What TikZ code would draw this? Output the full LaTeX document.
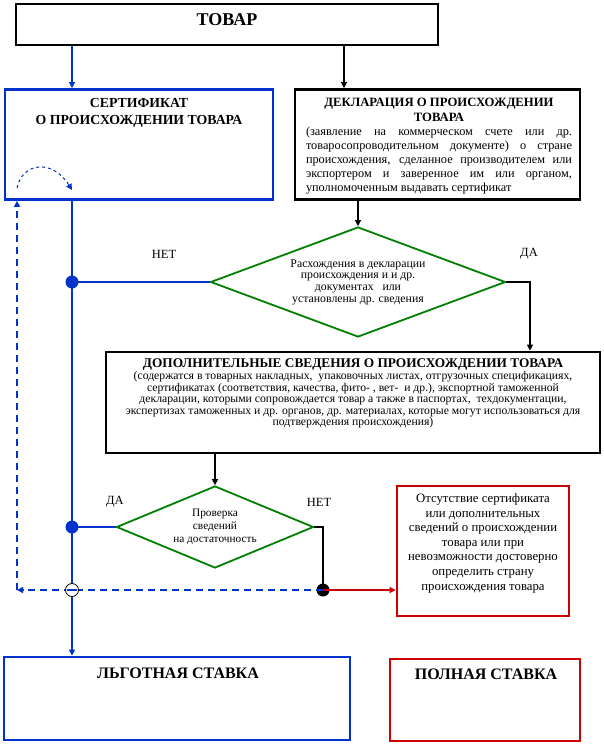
\documentclass[tikz,border=0pt]{standalone}
\usepackage{fontspec}
\setmainfont{Liberation Serif}
\usetikzlibrary{shapes.geometric,arrows.meta,calc}
\definecolor{cblue}{RGB}{0,51,204}
\definecolor{cgreen}{RGB}{0,128,0}
\definecolor{cred}{RGB}{204,0,0}
\begin{document}
\begin{tikzpicture}[x=1pt,y=-1pt,
  box/.style={draw, line width=2.8pt, inner sep=0pt},
  conn/.style={line width=1.8pt},
  arr/.style={-{Triangle[length=6pt,width=6pt]}},
  dsh/.style={line width=1.8pt, dash pattern=on 7pt off 5pt},
  dia/.style={diamond, draw=cgreen, line width=1.8pt, inner sep=0pt, align=center},
  txt/.style={inner sep=0pt, align=center},
  dotb/.style={circle, fill=cblue, minimum size=13pt, inner sep=0pt},
  dotk/.style={circle, fill=black, minimum size=13pt, inner sep=0pt},
  lbl/.style={inner sep=0pt, font=\fontsize{12.5}{14}\selectfont}
]
\useasboundingbox[fill=white] (0,0) rectangle (604,748);

% boxes
\node[box, draw=black, minimum width=422pt, minimum height=41pt] (tovar) at (227,24.5) {};
\node[txt, font=\fontsize{18}{20}\selectfont\bfseries] (tovarT) at (227,20) {ТОВАР};

\node[box, draw=cblue, minimum width=268pt, minimum height=110pt] (cert) at (139,144.5) {};
\node[txt, anchor=north, font=\fontsize{13.8}{17}\selectfont\bfseries] (certT) at (139,98.5) {СЕРТИФИКАТ\\О ПРОИСХОЖДЕНИИ ТОВАРА};

\node[box, draw=black, minimum width=285pt, minimum height=110pt] (decl) at (437.5,144.5) {};
\node[txt, anchor=north, font=\fontsize{12.7}{15}\selectfont\bfseries] (declT) at (439,97.5) {ДЕКЛАРАЦИЯ О ПРОИСХОЖДЕНИИ\\ТОВАРА};
\node[inner sep=0pt, anchor=north, text width=266pt, align=justify, font=\fontsize{12.3}{14}\selectfont] (declB) at (439,126.5) {(заявление на коммерческом счете или др.\linebreak товаросопроводительном документе) о стране\linebreak происхождения, сделанное производителем или\linebreak экспортером и заверенное им или органом,\linebreak уполномоченным выдавать сертификат};

\node[dia, aspect=2.68, minimum width=295pt, minimum height=110pt, font=\fontsize{11.8}{11.7}\selectfont] (d1) at (358,282) {Расхождения в декларации\\происхождения и и др.\\документах~~ или\\установлены др. сведения};

\node[box, draw=black, minimum width=494pt, minimum height=101pt] (dop) at (353,402.5) {};
\node[txt, anchor=north, font=\fontsize{13.3}{15}\selectfont\bfseries] (dopT) at (353,358.5) {ДОПОЛНИТЕЛЬНЫЕ СВЕДЕНИЯ О ПРОИСХОЖДЕНИИ ТОВАРА};
\node[txt, anchor=north, font=\fontsize{11.7}{11.5}\selectfont] (dopB) at (353,371.5) {(содержатся в товарных накладных,~ упаковочных листах, отгрузочных спецификациях,\\сертификатах (соответствия, качества, фито- , вет-~ и др.), экспортной таможенной\\декларации, которыми сопровождается товар а также в паспортах,~ техдокументации,\\экспертизах таможенных и др. органов, др. материалах, которые могут использоваться для\\подтверждения происхождения)};

\node[dia, aspect=2.4, minimum width=197pt, minimum height=82pt, font=\fontsize{11.3}{13}\selectfont] (d2) at (215,527) {Проверка\\сведений\\на достаточность};

\node[box, draw=cred, minimum width=172pt, minimum height=130pt] (red) at (483,551) {};
\node[txt, anchor=north, font=\fontsize{12.8}{14.6}\selectfont] (redT) at (483,493.5) {Отсутствие сертификата\\или дополнительных\\сведений о происхождении\\товара или при\\невозможности достоверно\\определить страну\\происхождения товара};

\node[box, draw=cblue, minimum width=346pt, minimum height=83pt] (lgot) at (177,698.5) {};
\node[txt, anchor=north, font=\fontsize{16}{18}\selectfont\bfseries] (lgotT) at (178,667.5) {ЛЬГОТНАЯ СТАВКА};

\node[box, draw=cred, minimum width=190pt, minimum height=82pt] (poln) at (485,700) {};
\node[txt, anchor=north, font=\fontsize{16}{18}\selectfont\bfseries] (polnT) at (486,668.5) {ПОЛНАЯ СТАВКА};

% labels
\node[lbl] (net1) at (164,254) {НЕТ};
\node[lbl] (da1) at (529,254) {ДА};
\node[lbl] (da2) at (115,502) {ДА};
\node[lbl] (net2) at (319,502) {НЕТ};

% coordinates
\coordinate (bx) at (72,0);
\coordinate (kx) at (344,0);
\coordinate (dx) at (530,0);
\coordinate (cl) at (17,590);
\coordinate (ca) at (17,188);
\coordinate (cb) at (72,190);

% connectors
\draw[conn, cblue, arr] (tovar.south -| bx) -- (cert.north -| bx);
\draw[conn, black, arr] (tovar.south -| kx) -- (decl.north -| kx);
\draw[conn, black, arr] (decl.south -| d1.north) -- (d1.north);
\draw[conn, black, arr] (d1.east) -| (dx |- dop.north);
\draw[conn, black, arr] (dop.south -| d2.north) -- (d2.north);
\draw[conn, cblue, arr] (cert.south -| bx) -- (lgot.north -| bx);
\node[dotb] (bd1) at (d1.west -| bx) {};
\node[dotb] (bd2) at (d2.west -| bx) {};
\draw[conn, cblue] (bd1.center) -- (d1.west);
\draw[conn, cblue] (bd2.center) -- (d2.west);
\node[dotk] (kd) at (323,590) {};
\draw[conn, black] (d2.east) -| (kd.center);
\draw[conn, cred, arr] (kd.center) -- (kd -| red.west);
\draw[dsh, cblue, arr] (kd.center) -- (cl);
\draw[dsh, cblue, arr] (cl) -- (cl |- cert.south);
\draw[cblue, line width=1pt, dash pattern=on 3pt off 3pt, arr] (ca) .. controls (22,163) and (52,158) .. (cb);
\node[circle, draw=black, fill=white, line width=0.8pt, minimum size=13pt, inner sep=0pt] (cross) at (72,590) {};
\draw[conn, cblue] (cross.west) ++(2,0) -- ($(cross.east)+(-2,0)$);
\end{tikzpicture}
\end{document}
